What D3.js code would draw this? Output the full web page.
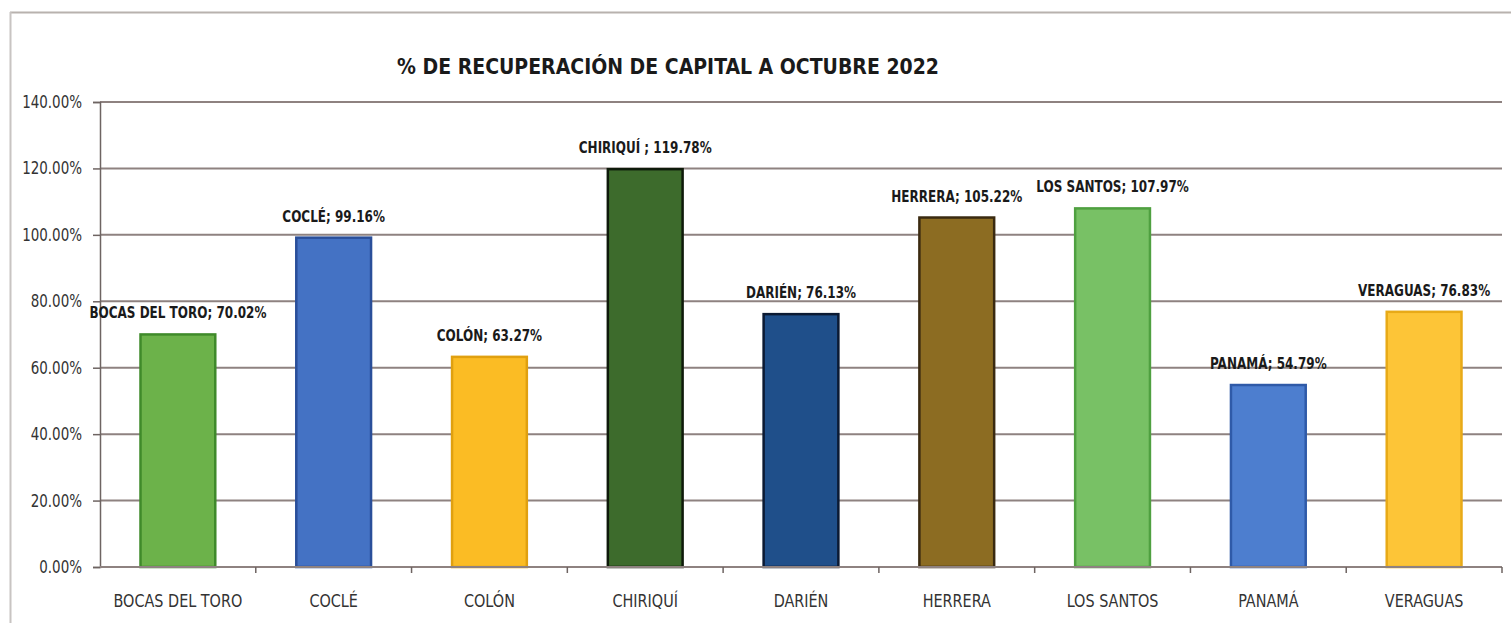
<!DOCTYPE html>
<html>
<head>
<meta charset="utf-8">
<script src="https://cdn.jsdelivr.net/npm/d3@7"></script>
<style>
  html, body { margin: 0; padding: 0; background: #fff; }
  svg { display: block; }
  .narrow { font-family: "DejaVu Sans Condensed", "Liberation Sans Narrow", sans-serif; }
</style>
</head>
<body>
<svg id="chart" width="1511" height="623"></svg>
<script>
// Provinces and recovery percentages (October 2022)
const provinces = ["BOCAS DEL TORO", "COCLÉ", "COLÓN", "CHIRIQUÍ", "DARIÉN", "HERRERA", "LOS SANTOS", "PANAMÁ", "VERAGUAS"];
const recovery = [70.02, 99.16, 63.27, 119.78, 76.13, 105.22, 107.97, 54.79, 76.83];
const pointLabels = ["BOCAS DEL TORO; 70.02%", "COCLÉ; 99.16%", "COLÓN; 63.27%", "CHIRIQUÍ ; 119.78%", "DARIÉN; 76.13%", "HERRERA; 105.22%", "LOS SANTOS; 107.97%", "PANAMÁ; 54.79%", "VERAGUAS; 76.83%"];
const fills = ["#6cb24a", "#4472c4", "#fbbc24", "#3d6b2c", "#1f4f8a", "#8c6c22", "#78c165", "#4d7ecf", "#fdc537"];
const strokes = ["#3f8a2a", "#2a4f9a", "#e0a010", "#0e1a0a", "#0b1a33", "#3a2a10", "#4fa040", "#2f5aa8", "#e8aa18"];
const yTicks = [0, 20, 40, 60, 80, 100, 120, 140];
const title = "% DE RECUPERACIÓN DE CAPITAL A OCTUBRE 2022";

const svg = d3.select("#chart");
const W = 1511, H = 623;
const m = { left: 100, right: 9, top: 102, bottom: 56 };

// outer frame (top and left edges)
svg.append("line").attr("x1", 10).attr("x2", W).attr("y1", 12.5).attr("y2", 12.5)
  .attr("stroke", "#b8b2ae").attr("stroke-width", 2);
svg.append("line").attr("x1", 10.5).attr("x2", 10.5).attr("y1", 12).attr("y2", H)
  .attr("stroke", "#c8c4c2").attr("stroke-width", 2);

const x = d3.scaleBand().domain(provinces).range([m.left, W - m.right]).paddingInner(0.52).paddingOuter(0.26);
const y = d3.scaleLinear().domain([0, 140]).range([H - m.bottom, m.top]);

// horizontally condensed text helper
function narrowText(sel, cx, cy, sx) {
  sel.attr("transform", (d, i) => `translate(${cx(d, i)},${cy(d, i)}) scale(${sx},1)`);
}

// horizontal gridlines
svg.append("g")
  .selectAll("line").data(yTicks.filter(d => d > 0)).join("line")
  .attr("x1", m.left).attr("x2", W - m.right)
  .attr("y1", d => y(d)).attr("y2", d => y(d))
  .attr("stroke", "#8e8280").attr("stroke-width", 2);

// y axis
const yAxis = svg.append("g").attr("transform", `translate(${m.left},0)`)
  .call(d3.axisLeft(y).tickValues(yTicks).tickSize(7).tickFormat(d => d3.format(".2f")(d) + "%"));
yAxis.select(".domain").attr("stroke", "#6e6462").attr("stroke-width", 1.5);
yAxis.selectAll(".tick line").attr("stroke", "#6e6462").attr("stroke-width", 1.5);
yAxis.selectAll(".tick text")
  .attr("class", "narrow").attr("font-size", 17).attr("fill", "#333")
  .attr("x", 0).attr("dy", "0.32em")
  .attr("transform", "translate(-18,0) scale(0.88,1)");

// bars
svg.append("g").selectAll("rect").data(recovery).join("rect")
  .attr("x", (d, i) => x(provinces[i]))
  .attr("y", d => y(d))
  .attr("width", x.bandwidth())
  .attr("height", d => y(0) - y(d))
  .attr("fill", (d, i) => fills[i])
  .attr("stroke", (d, i) => strokes[i])
  .attr("stroke-width", 2.5);

// x axis with category boundary ticks
const xAxisG = svg.append("g").attr("transform", `translate(0,${y(0)})`);
xAxisG.append("line").attr("x1", m.left).attr("x2", W - m.right).attr("y1", 0).attr("y2", 0)
  .attr("stroke", "#8e8280").attr("stroke-width", 2);
xAxisG.selectAll(".bound").data(d3.range(1, provinces.length + 1)).join("line")
  .attr("class", "bound")
  .attr("x1", i => m.left + i * (W - m.right - m.left) / provinces.length)
  .attr("x2", i => m.left + i * (W - m.right - m.left) / provinces.length)
  .attr("y1", 0).attr("y2", 6)
  .attr("stroke", "#6e6462").attr("stroke-width", 1.5);
xAxisG.selectAll("text").data(provinces).join("text")
  .attr("class", "narrow")
  .attr("text-anchor", "middle")
  .attr("font-size", 18)
  .attr("fill", "#333")
  .text(d => d)
  .call(narrowText, d => x(d) + x.bandwidth() / 2, () => 40, 0.89);

// data labels above bars
svg.append("g").selectAll("text").data(recovery).join("text")
  .attr("class", "narrow")
  .attr("text-anchor", "middle")
  .attr("font-size", 15)
  .attr("font-weight", "bold")
  .attr("fill", "#1a1a1a")
  .text((d, i) => pointLabels[i])
  .call(narrowText, (d, i) => x(provinces[i]) + x.bandwidth() / 2, d => y(d) - 16, 0.89);

// title
svg.append("text")
  .attr("class", "narrow")
  .attr("x", 668).attr("y", 74)
  .attr("text-anchor", "middle")
  .attr("font-size", 21)
  .attr("font-weight", "bold")
  .attr("fill", "#1a1a1a")
  .text(title);
</script>
</body>
</html>
